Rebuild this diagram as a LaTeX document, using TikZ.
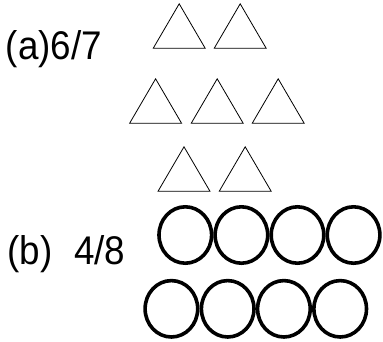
\documentclass[tikz,border=0pt]{standalone}
\usepackage{fontspec}
\setmainfont{Liberation Sans}
\usetikzlibrary{shapes.geometric}
\tikzset{
  tri/.style={draw=black, line width=0.8pt, line join=miter},
  ring/.style={draw=black, line width=3.6pt},
  lab/.style={inner sep=0pt, anchor=base west, font=\fontsize{40}{44}\selectfont}
}
\begin{document}
\begin{tikzpicture}[x=1pt,y=-1pt]
\useasboundingbox (0,0) rectangle (383,341);
% labels
\node[lab] (la) at (5.6,59) {\scalebox{0.92}[1]{(a)6/7}};
\node[lab] (lb) at (7.3,264) {\scalebox{0.92}[1]{(b)\hspace{23.6pt}4/8}};
% triangles: center x, base y
\foreach \cx/\by in {179.2/48.3, 240.2/48.3,
                     155.6/123.3, 217.2/123.3, 278.2/123.3,
                     184/191.3, 245.2/191.3}{
  \draw[tri] (\cx-26,\by) -- (\cx+26,\by) -- (\cx,\by-44.5) -- cycle;
}
% rings
\foreach \cx in {185.3, 241.4, 297.5, 353.6}{
  \draw[ring] (\cx,235) ellipse [x radius=26.3, y radius=28.2];
}
\foreach \cx in {171.4, 227.7, 283.9, 340.2}{
  \draw[ring] (\cx,308.8) ellipse [x radius=26.3, y radius=28.2];
}
\end{tikzpicture}
\end{document}
